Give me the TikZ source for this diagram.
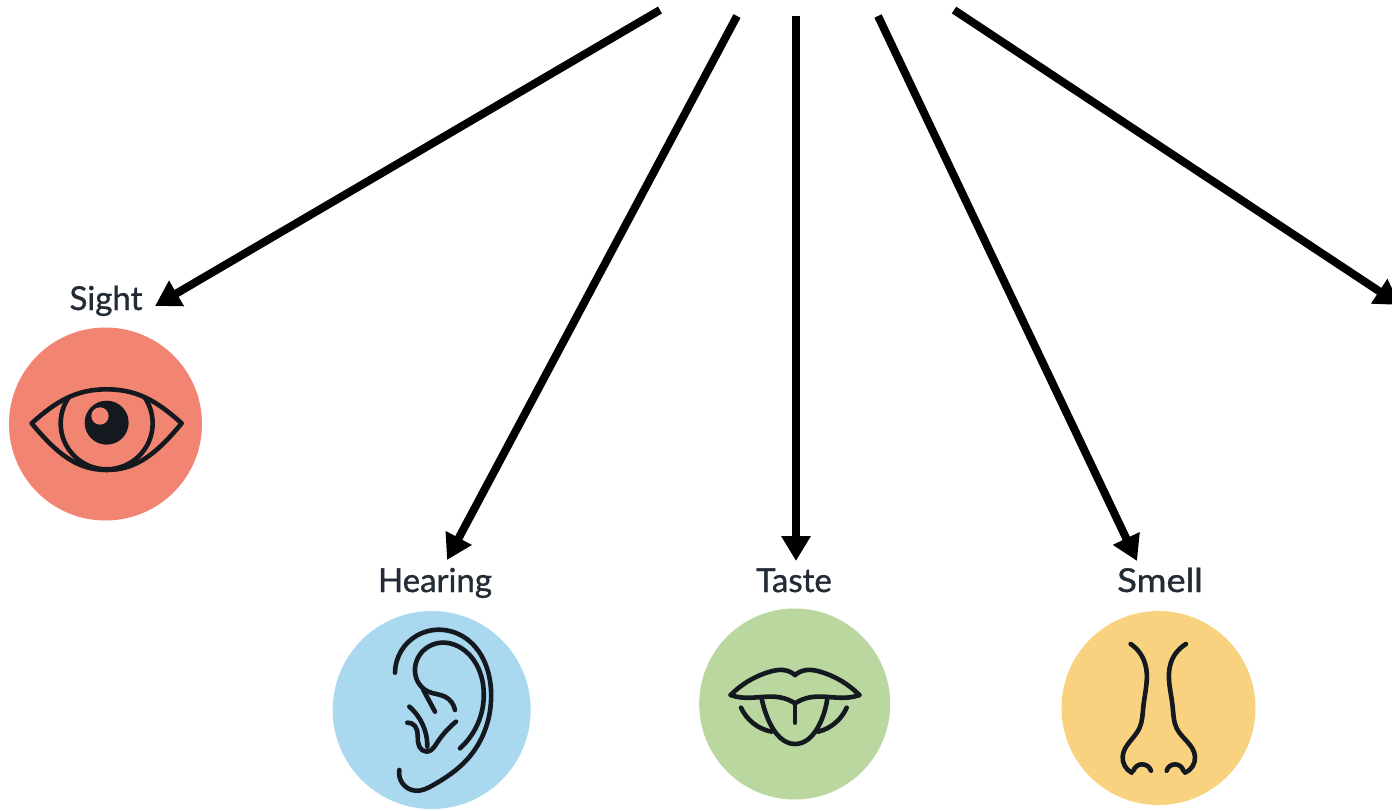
\documentclass[tikz,border=0pt]{standalone}
\usepackage{fontspec}
\usepackage{graphicx}
\setmainfont{Lato}
\newfontfamily\labfont[RawFeature={embolden=1.0}]{Lato}
\usetikzlibrary{arrows.meta,hobby}
\definecolor{ink}{HTML}{14191F}
\definecolor{labelink}{HTML}{232B36}
\definecolor{csight}{HTML}{F28472}
\definecolor{chearing}{HTML}{A9D8EF}
\definecolor{ctaste}{HTML}{B9D79E}
\definecolor{csmell}{HTML}{F8D27F}
\tikzset{
  x=1pt,y=-1pt,
  sense/.style={circle,inner sep=0pt,outer sep=0pt,minimum size=#1},
  lab/.style={anchor=base,inner sep=0pt,text=labelink,font=\labfont\fontsize{33}{36}\selectfont},
  arrowline/.style={draw=black,line width=8pt,-{Triangle[length=25pt,width=28pt]}},
  icon/.style={draw=ink,line width=4.6pt,line cap=round,line join=round,use Hobby shortcut},
}
\begin{document}
\begin{tikzpicture}
\useasboundingbox (0,0) rectangle (1392,811);
\clip (0,0) rectangle (1392,811);
\fill[white] (0,0) rectangle (1392,811);
% circles
\node[sense=193pt,fill=csight] (csi) at (105.5,424) {};
\node[sense=198pt,fill=chearing] (che) at (431.7,710) {};
\node[sense=191pt,fill=ctaste] (cta) at (794.7,704) {};
\node[sense=194pt,fill=csmell] (csm) at (1158.5,708) {};
% labels
\node[lab] (lsi) at (106,310) {Sight};
\node[lab] (lhe) at (435,592) {Hearing};
\node[lab] (lta) at (794,592) {Taste};
\node[lab] (lsm) at (1160,592) {\scalebox{1.1}[1]{Smell}};
% arrow ends
\coordinate (s1) at (660,10);
\coordinate (s2) at (737,16);
\coordinate (s3) at (796,16);
\coordinate (s4) at (878,16);
\coordinate (s5) at (954,10);
\coordinate (t1) at (155,306);
\coordinate (t2) at (447,560);
\coordinate (t3) at (796,561);
\coordinate (t4) at (1137,561);
\coordinate (t5) at (1400,305);
\draw[arrowline] (s1) -- (t1);
\draw[arrowline] (s2) -- (t2);
\draw[arrowline] (s3) -- (t3);
\draw[arrowline] (s4) -- (t4);
\draw[arrowline] (s5) -- (t5);
% eye
\begin{scope}[shift={(0,270)},scale=1/3]
\begin{scope}
\clip (95,460) .. controls (170,392) and (230,358) .. (320,358) .. controls (410,358) and (470,392) .. (545,460) .. controls (470,550) and (410,600) .. (320,600) .. controls (230,600) and (170,550) .. (95,460) -- cycle;
\draw[draw=ink,line width=4.6pt] (320,460) circle[radius=138];
\end{scope}
\draw[draw=ink,line width=4.6pt,line join=round] (95,460) .. controls (170,392) and (230,358) .. (320,358) .. controls (410,358) and (470,392) .. (545,460) .. controls (470,550) and (410,600) .. (320,600) .. controls (230,600) and (170,550) .. (95,460) -- cycle;
\fill[ink] (320,458) circle[radius=66];
\fill[csight] (300,438) circle[radius=26];
\end{scope}
% ear
\begin{scope}[shift={(320,540)},scale=1/3]
\draw[icon] (225,398) .. (290,287) .. (430,290) .. (513,450) .. (440,660) .. (340,735) .. (285,752) .. (238,690);
\draw[icon] (420,625) .. (490,440) .. (420,322) .. (350,310) .. (285,385) .. (325,455) .. (375,470) .. (405,510);
\draw[icon] (310,450) .. (345,515);
\draw[icon] (268,500) .. (298,535) .. (322,620);
\draw[icon] (262,548) .. (285,558) .. (298,620) .. (320,635) .. (350,610) .. (408,545);
\end{scope}
% mouth
\begin{scope}[shift={(690,540)},scale=1/3]
\draw[icon] (122,465) .. (240,395) .. (280,390) .. (315,405);
\draw[icon] (315,405) .. (350,390) .. (390,395) .. (508,465);
\draw[icon] (122,465) .. (150,472) .. (270,472) .. (315,490);
\draw[icon] (315,490) .. (360,472) .. (480,472) .. (508,465);
\draw[icon] (215,475) .. (240,550) .. (315,612) .. (390,550) .. (412,475);
\draw[icon] (315,495) -- (315,548);
\draw[icon] (153,503) .. (190,550) .. (245,575);
\draw[icon] (470,503) .. (440,545) .. (385,575);
\end{scope}
% nose
\begin{scope}[shift={(1050,530)},scale=1/3]
\draw[icon] (242,342) .. (285,400) .. (280,530) .. (268,595) .. (218,680) .. (245,728);
\draw[icon] (250,722) .. (275,703) .. (303,722);
\draw[icon] (408,342) .. (362,400) .. (368,530) .. (380,595) .. (435,680) .. (405,728);
\draw[icon] (350,722) .. (375,703) .. (400,722);
\end{scope}
\end{tikzpicture}
\end{document}
